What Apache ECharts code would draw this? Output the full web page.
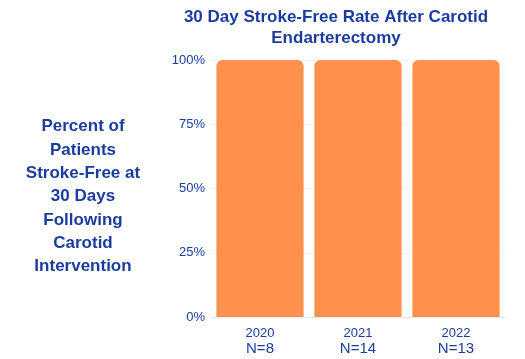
<!DOCTYPE html>
<html><head><meta charset="utf-8">
<script src="https://cdn.jsdelivr.net/npm/echarts@6/dist/echarts.min.js"></script>
<style>html,body{margin:0;padding:0;background:#fff}#c{width:525px;height:359px}</style>
</head><body><div id="c"></div>
<script>
const years = ['2020', '2021', '2022'];
const counts = ['N=8', 'N=14', 'N=13'];
const rates = [100, 100, 100];
const yTicks = [0, 25, 50, 75, 100];

const blue = '#1a3c9e';
const chart = echarts.init(document.getElementById('c'));
chart.setOption({
  animation: false,
  title: [{
    text: '30 Day Stroke-Free Rate After Carotid\nEndarterectomy',
    left: 331, top: 2, textAlign: 'center',
    textStyle: { fontFamily: 'Liberation Sans', fontWeight: 'bold', fontSize: 17, color: blue, lineHeight: 21 }
  }, {
    text: 'Percent of\nPatients\nStroke-Free at\n30 Days\nFollowing\nCarotid\nIntervention',
    left: 78, top: 110, textAlign: 'center',
    textStyle: { fontFamily: 'Liberation Sans', fontWeight: 'bold', fontSize: 17, color: blue, lineHeight: 23.3 }
  }],
  grid: { left: 211, right: 20, top: 60, bottom: 42 },
  xAxis: {
    type: 'category',
    data: years.map((y, i) => y + '\n' + counts[i]),
    axisLine: { lineStyle: { color: '#dde6f3' } },
    axisTick: { show: false },
    axisLabel: {
      fontFamily: 'Liberation Sans', color: blue, margin: 8,
      formatter: v => { const p = v.split('\n'); return '{a|' + p[0] + '}\n{b|' + p[1] + '}'; },
      rich: { a: { fontSize: 13, color: blue, lineHeight: 16, fontFamily: 'Liberation Sans' }, b: { fontSize: 15, color: blue, lineHeight: 16, fontFamily: 'Liberation Sans' } }
    }
  },
  yAxis: {
    type: 'value', min: yTicks[0], max: yTicks[yTicks.length - 1], interval: 25,
    axisLabel: { formatter: '{value}%', fontFamily: 'Liberation Sans', fontSize: 13, color: blue, margin: 6 },
    splitLine: { lineStyle: { color: '#f3f3f3' } },
    axisLine: { show: false }, axisTick: { show: false }
  },
  series: [{
    type: 'bar', data: rates, barCategoryGap: '11%',
    itemStyle: { color: '#FF914D', borderRadius: [6, 6, 0, 0] }
  }]
});
</script></body></html>
